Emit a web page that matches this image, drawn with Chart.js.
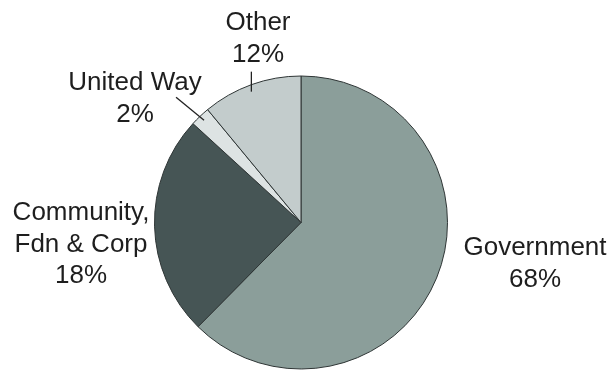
<!DOCTYPE html>
<html>
<head>
<meta charset="utf-8">
<script src="https://cdn.jsdelivr.net/npm/chart.js@4/dist/chart.umd.min.js"></script>
<style>
  html, body { margin: 0; padding: 0; background: #fff; }
  #wrap { width: 614px; height: 371px; }
</style>
</head>
<body>
<div id="wrap"><canvas id="pieChart" width="614" height="371"></canvas></div>
<script>
// slice names, the percent printed next to each, and the slice size as drawn
const categories = ['Government', 'Community, Fdn & Corp', 'United Way', 'Other'];
const printedPct = ['68%', '18%', '2%', '12%'];
const sliceSizes = [62.4, 24.4, 2.2, 11.0];
const sliceColors = ['#8b9e9a', '#465555', '#dde3e3', '#c3cccc'];

// label text lines per slice
const labelLines = [
  ['Government', printedPct[0]],
  ['Community,', 'Fdn & Corp', printedPct[1]],
  ['United Way', printedPct[2]],
  ['Other', printedPct[3]]
];
// where each label block sits (centre x, first baseline y)
const labelPos = [
  {x: 535, y: 255},
  {x: 81, y: 220},
  {x: 135, y: 90},
  {x: 258, y: 30}
];

const labelPlugin = {
  id: 'labelPlugin',
  afterDraw(chart){
    const ctx = chart.ctx;
    const arcs = chart.getDatasetMeta(0).data;
    ctx.save();
    ctx.fillStyle = '#1e1e1e';
    ctx.font = '26px "Liberation Sans", Arial, sans-serif';
    ctx.textAlign = 'center';
    ctx.textBaseline = 'alphabetic';
    labelLines.forEach((lines, i) => {
      lines.forEach((t, j) => ctx.fillText(t, labelPos[i].x, labelPos[i].y + j * 31.5));
    });

    // leader lines for the two small slices
    ctx.strokeStyle = '#222';
    ctx.lineWidth = 1.3;
    const pt = (arc) => {
      const a = (arc.startAngle + arc.endAngle) / 2;
      return {x: arc.x + Math.cos(a) * arc.outerRadius, y: arc.y + Math.sin(a) * arc.outerRadius};
    };
    const o = pt(arcs[3]);
    ctx.beginPath();
    ctx.moveTo(o.x, o.y + 7);
    ctx.lineTo(o.x, o.y - 13);
    ctx.stroke();
    const u = pt(arcs[2]);
    ctx.beginPath();
    ctx.moveTo(u.x + 4, u.y + 4);
    ctx.lineTo(u.x - 24, u.y - 19);
    ctx.stroke();
    ctx.restore();
  }
};

new Chart(document.getElementById('pieChart'), {
  type: 'pie',
  data: {
    labels: categories,
    datasets: [{
      data: sliceSizes,
      backgroundColor: sliceColors,
      borderColor: '#2e3535',
      borderWidth: 1
    }]
  },
  options: {
    responsive: false,
    animation: false,
    layout: {padding: {top: 75, bottom: 1, left: 154, right: 166}},
    plugins: {legend: {display: false}, tooltip: {enabled: false}}
  },
  plugins: [labelPlugin]
});
</script>
</body>
</html>
